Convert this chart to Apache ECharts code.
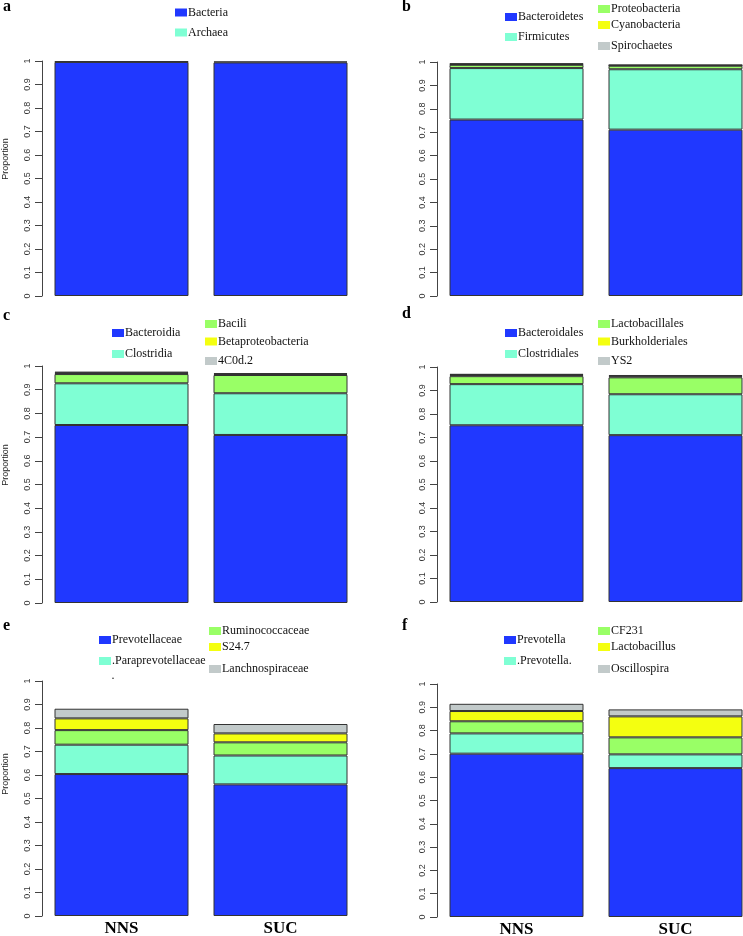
<!DOCTYPE html>
<html>
<head>
<meta charset="utf-8">
<script src="https://cdn.jsdelivr.net/npm/echarts@6/dist/echarts.min.js"></script>
<style>
html,body{margin:0;padding:0;background:#fff;}
#chart{width:743px;height:936px;}
</style>
</head>
<body>
<div id="chart"></div>
<script>
// ---- data ----
const groups = ['NNS', 'SUC'];
const yTicks = ['0','0.1','0.2','0.3','0.4','0.5','0.6','0.7','0.8','0.9','1'];

// a: kingdom
const kingdomNames = ['Bacteria', 'Archaea'];
const kingdomBacteria = [0.996, 0.994];
const kingdomArchaea = [0.003, 0.004];

// b: phylum
const phylumNames = ['Bacteroidetes', 'Firmicutes', 'Proteobacteria', 'Cyanobacteria', 'Spirochaetes'];
const phylumBacteroidetes = [0.754, 0.711];
const phylumFirmicutes = [0.220, 0.258];
const phylumProteobacteria = [0.014, 0.015];
const phylumCyanobacteria = [0.003, 0.002];
const phylumSpirochaetes = [0.003, 0.002];

// c: class
const classNames = ['Bacteroidia', 'Clostridia', 'Bacili', 'Betaproteobacteria', '4C0d.2'];
const classBacteroidia = [0.751, 0.709];
const classClostridia = [0.176, 0.176];
const classBacili = [0.039, 0.077];
const classBetaproteobacteria = [0.005, 0.004];
const class4C0d2 = [0.005, 0.004];

// d: order
const orderNames = ['Bacteroidales', 'Clostridiales', 'Lactobacillales', 'Burkholderiales', 'YS2'];
const orderBacteroidales = [0.752, 0.710];
const orderClostridiales = [0.175, 0.174];
const orderLactobacillales = [0.034, 0.072];
const orderBurkholderiales = [0.005, 0.005];
const orderYS2 = [0.005, 0.005];

// e: family
const familyNames = ['Prevotellaceae', '.Paraprevotellaceae', 'Ruminococcaceae', 'S24.7', 'Lanchnospiraceae'];
const familyPrevotellaceae = [0.604, 0.560];
const familyParaprevotellaceae = [0.125, 0.123];
const familyRuminococcaceae = [0.062, 0.056];
const familyS247 = [0.050, 0.038];
const familyLanchnospiraceae = [0.041, 0.040];

// f: genus
const genusNames = ['Prevotella', '.Prevotella.', 'CF231', 'Lactobacillus', 'Oscillospira'];
const genusPrevotella = [0.701, 0.639];
const genusPrevotellaBr = [0.087, 0.059];
const genusCF231 = [0.052, 0.073];
const genusLactobacillus = [0.044, 0.090];
const genusOscillospira = [0.031, 0.030];

const panelLetters = ['a', 'b', 'c', 'd', 'e', 'f'];
const panelNames = [kingdomNames, phylumNames, classNames, orderNames, familyNames, genusNames];
const panelValues = [
  [kingdomBacteria, kingdomArchaea],
  [phylumBacteroidetes, phylumFirmicutes, phylumProteobacteria, phylumCyanobacteria, phylumSpirochaetes],
  [classBacteroidia, classClostridia, classBacili, classBetaproteobacteria, class4C0d2],
  [orderBacteroidales, orderClostridiales, orderLactobacillales, orderBurkholderiales, orderYS2],
  [familyPrevotellaceae, familyParaprevotellaceae, familyRuminococcaceae, familyS247, familyLanchnospiraceae],
  [genusPrevotella, genusPrevotellaBr, genusCF231, genusLactobacillus, genusOscillospira]
];

// ---- layout / style ----
const colors = ['#2038FF', '#7FFFD4', '#99FF66', '#F4FF10', '#C2CACA'];
const grids = [
  {left: 42, top: 61, height: 235},
  {left: 437, top: 62, height: 234},
  {left: 42, top: 366, height: 237},
  {left: 437, top: 367, height: 235},
  {left: 42, top: 681, height: 235},
  {left: 437, top: 684, height: 233}
];
const letterPos = [[3, -1], [402, -1], [3, 308], [402, 306], [3, 618], [402, 618]];
// legend item positions: [x, centerY] per item
const legendPos = [
  [[175, 12.5], [175, 32.5]],
  [[505, 17], [505, 37], [598, 9], [598, 25], [598, 46]],
  [[112, 333], [112, 354], [205, 324], [205, 341.5], [205, 361]],
  [[505, 333], [505, 354], [598, 324], [598, 341.5], [598, 361]],
  [[99, 640], [99, 661], [209, 631], [209, 647], [209, 669]],
  [[504, 640], [504, 661], [598, 631], [598, 647], [598, 669]]
];
const propLabelY = [159, 465, 774];

const serif = '"Liberation Serif", "DejaVu Serif", serif';
const sans = '"Liberation Sans", Arial, sans-serif';

const option = {
  animation: false,
  backgroundColor: '#fff',
  title: [], grid: [], xAxis: [], yAxis: [], series: [], legend: [],
  graphic: []
};

grids.forEach((g, i) => {
  option.grid.push({left: g.left, top: g.top, width: 318, height: g.height, containLabel: false, outerBoundsMode: 'none'});
  option.title.push({
    text: panelLetters[i], left: letterPos[i][0], top: letterPos[i][1], padding: 0,
    textStyle: {fontFamily: serif, fontWeight: 'bold', fontSize: 16, color: '#000'}
  });
  const bottomRow = i >= 4;
  option.xAxis.push({
    type: 'category', gridIndex: i, data: groups,
    axisLine: {show: false}, axisTick: {show: false},
    axisLabel: {show: bottomRow, margin: 4, fontFamily: serif, fontWeight: 'bold', fontSize: 17, color: '#000'}
  });
  option.yAxis.push({
    type: 'value', gridIndex: i, min: 0, max: 1, interval: 0.1,
    axisLine: {show: true, lineStyle: {color: '#444', width: 1}},
    axisTick: {show: true, length: 7, lineStyle: {color: '#444'}},
    splitLine: {show: false},
    axisLabel: {
      rotate: 90, margin: 10, fontFamily: sans, fontSize: 9, color: '#333',
      formatter: (v) => yTicks[Math.round(v * 10)]
    }
  });
  panelNames[i].forEach((name, k) => {
    option.series.push({
      type: 'bar', name: name, xAxisIndex: i, yAxisIndex: i, stack: 'p' + i,
      data: panelValues[i][k], barWidth: 134,
      itemStyle: {color: colors[k], borderColor: '#333', borderWidth: 1},
      emphasis: {disabled: true}
    });
    const p = legendPos[i][k];
    option.legend.push({
      data: [name], left: p[0], top: p[1] - 7, padding: 0,
      itemWidth: 12, itemHeight: 8, icon: 'rect', selectedMode: false,
      itemStyle: {borderWidth: 0},
      textStyle: {fontFamily: serif, fontSize: 12, color: '#111', padding: [0, 0, 0, -4], lineHeight: 14}
    });
  });
});

propLabelY.forEach((y) => {
  option.graphic.push({
    type: 'text', x: 6, y: y, rotation: Math.PI / 2,
    style: {text: 'Proportion', font: '9px ' + sans, fill: '#222', textAlign: 'center', textVerticalAlign: 'middle'}
  });
});
option.graphic.push({
  type: 'text', x: 113, y: 676,
  style: {text: '.', font: '12px ' + serif, fill: '#111', textAlign: 'center', textVerticalAlign: 'middle'}
});

const chart = echarts.init(document.getElementById('chart'), null, {renderer: 'canvas'});
chart.setOption(option);
</script>
</body>
</html>
